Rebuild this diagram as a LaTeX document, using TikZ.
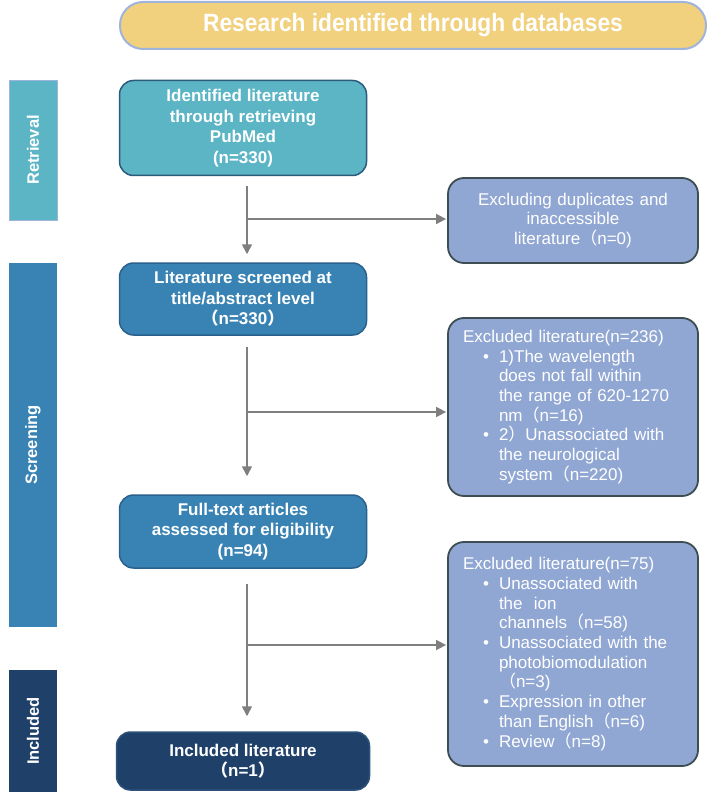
\documentclass[tikz,border=0pt]{standalone}
\usepackage{fontspec}
\setmainfont{Liberation Sans}
\newfontfamily\cjk{Noto Sans CJK SC}
\usepackage{graphicx}
\usetikzlibrary{arrows.meta,positioning}

\definecolor{bannerfill}{HTML}{F1D07E}
\definecolor{bannerline}{HTML}{9EB4DC}
\definecolor{tealfill}{HTML}{5BB5C5}
\definecolor{tealline}{HTML}{2C5A7A}
\definecolor{bluefill}{HTML}{3883B4}
\definecolor{blueline}{HTML}{2A618C}
\definecolor{navyfill}{HTML}{1F4169}
\definecolor{navyline}{HTML}{2D527A}
\definecolor{exclfill}{HTML}{91A7D3}
\definecolor{exclline}{HTML}{3E4D52}
\definecolor{arrowgray}{HTML}{7F7F7F}

% full-width brackets and list helpers
\newcommand{\fwl}{{\cjk （}}
\newcommand{\fwr}{{\cjk ）}}
\newcommand{\bul}{\hspace*{20pt}\makebox[16pt][l]{\textbullet}}
\newcommand{\cont}{\hspace*{36pt}}

\tikzset{
    %Define standard arrow tip
    >={Triangle[length=10pt,width=10pt]},
    %Define style for the stage boxes
    stage/.style={
           rectangle,
           rounded corners=14pt,
           line width=1.5pt,
           text=white,
           font=\fontsize{17}{20.5}\selectfont\bfseries,
           align=center,
           minimum width=247pt,
           inner sep=0pt},
    % Define style for the exclusion boxes
    excl/.style={
           rectangle,
           rounded corners=16pt,
           draw=exclline, line width=1.8pt,
           fill=exclfill,
           text=white,
           font=\fontsize{17}{19.7}\selectfont,
           text width=220pt,
           inner xsep=15pt, inner ysep=0pt},
    % Define style for the phase bars
    phase/.style={
           rectangle,
           rotate=90,
           minimum height=48pt,
           inner sep=0pt,
           text=white,
           font=\fontsize{16.5}{19}\selectfont\bfseries},
    % Define arrow style
    pil/.style={
           ->,
           draw=arrowgray,
           line width=1.6pt},
    branch/.style={
           pil,
           shorten >=1pt}
}

\begin{document}
\begin{tikzpicture}[x=1pt, y=-1pt]
\useasboundingbox (0,0) rectangle (708,794);

% banner
\node[rectangle, rounded corners=23pt, draw=bannerline, line width=2pt, fill=bannerfill,
      minimum width=586pt, minimum height=47pt, text=white,
      font=\fontsize{25}{28}\selectfont\bfseries] (banner) at (413,25.5)
      {\scalebox{0.91}[1]{Research identified through databases}};

% phase bars
\node[phase, fill=tealfill, draw=bannerline, line width=0.6pt, minimum width=140pt] (retrieval) at (33,150) {Retrieval};
\node[phase, fill=bluefill, minimum width=364pt] (screening) at (33,445) {Screening};
\node[phase, fill=navyfill, minimum width=122pt] (included) at (33,731) {Included};

% stage boxes
\node[stage, fill=tealfill, draw=tealline, minimum height=95pt] (ident) at (243,128)
    {Identified literature\\through retrieving\\PubMed\\(n=330)};
\node[stage, fill=bluefill, draw=blueline, minimum height=72pt] (screen) at (243,299)
    {Literature screened at\\title/abstract level\\\fwl n=330\fwr};
\node[stage, fill=bluefill, draw=blueline, minimum height=73pt] (full) at (243,531.5)
    {Full-text articles\\assessed for eligibility\\(n=94)};
\node[stage, fill=navyfill, draw=navyline, minimum height=58pt, minimum width=253pt] (incl) at (243,761)
    {Included literature\\\fwl n=1\fwr};

% exclusion boxes
\node[excl, align=center, minimum height=85pt] (excl1) at (573,220.5)
    {Excluding duplicates and\\inaccessible\\literature\fwl n=0)};
\node[excl, align=left, minimum height=178pt] (excl2) at (573,407)
    {Excluded literature(n=236)\\
     \bul 1)The wavelength\\
     \cont does not fall within\\
     \cont the range of 620-1270\\
     \cont nm\fwl n=16)\\
     \bul 2\fwr Unassociated with\\
     \cont the neurological\\
     \cont system\fwl n=220)};
\node[excl, align=left, minimum height=224pt] (excl3) at (573,654)
    {Excluded literature(n=75)\\
     \bul Unassociated with\\
     \cont the\ \ ion\\
     \cont channels\fwl n=58)\\
     \bul Unassociated with the\\
     \cont photobiomodulation\\
     \cont\fwl n=3)\\
     \bul Expression in other\\
     \cont than English\fwl n=6)\\
     \bul Review\fwl n=8)};

% main flow
\draw[pil, shorten <=10pt, shorten >=8pt] ([xshift=4pt]ident.south) -- ([xshift=4pt]screen.north);
\draw[pil, shorten <=11pt, shorten >=18pt] ([xshift=4pt]screen.south) -- ([xshift=4pt]full.north);
\draw[pil, shorten <=15pt, shorten >=15pt] ([xshift=4pt]full.south) -- ([xshift=4pt]incl.north);

% branches to exclusions
\coordinate (b1) at (247,219);
\coordinate (b2) at (247,412);
\coordinate (b3) at (247,645);
\draw[branch] (b1) -- (b1 -| excl1.west);
\draw[branch] (b2) -- (b2 -| excl2.west);
\draw[branch] (b3) -- (b3 -| excl3.west);
\end{tikzpicture}
\end{document}
